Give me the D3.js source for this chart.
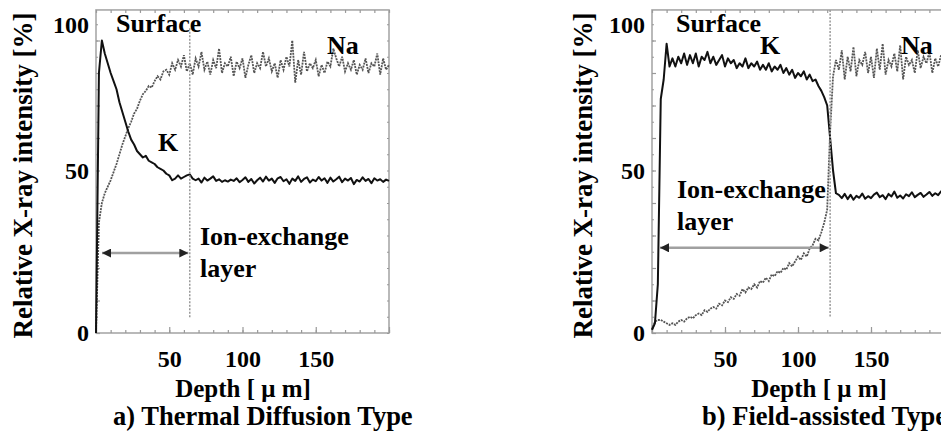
<!DOCTYPE html>
<html>
<head>
<meta charset="utf-8">
<script src="https://cdn.jsdelivr.net/npm/d3@7"></script>
<style>
  body { margin: 0; background: #fff; }
  svg text { font-family: "Liberation Serif", "Times New Roman", serif; font-weight: bold; fill: #000; }
</style>
</head>
<body>
<script>
// Sampling step of the EPMA line scans [um]
var depthStep = 2;

// a) Thermal diffusion type, depth 0..200 um every 2 um
var kThermal = [0, 80, 90, 86, 83, 80, 77.5, 75, 71, 68, 65, 62, 59.5, 58, 56, 55, 54, 54.5, 53, 52.5,
  52, 51, 50.5, 50, 49, 48.5, 47, 47.5, 48.5, 47.5, 48, 48.5, 48.8, 47.5, 47, 47.5,
  46.3, 47.8, 46.9, 47.5, 48.2, 46.8, 47.3, 46.5, 47.0, 46.6, 47.2, 46.8, 47.6, 46.4, 47.1, 47.9,
  46.5, 47.4, 46.0, 47.0, 47.8, 46.6, 48.1, 46.9, 47.5, 46.2, 47.6, 48.0, 46.7, 47.3, 45.9, 47.5,
  46.8, 48.2, 46.5, 47.4, 47.9, 46.3, 47.2, 46.7, 48.0, 46.9, 47.6, 46.2, 47.8, 46.6, 47.3, 48.1,
  46.4, 47.5, 46.9, 47.7, 45.8, 47.1, 46.6, 47.9, 46.8, 47.4, 46.1, 47.6, 46.9, 47.3, 46.5, 47.2, 46.8];

var naThermal = [0, 34, 40, 43, 45, 47, 49.5, 52, 55, 58, 60.5, 63, 65, 67.5, 69, 71.5, 73.5, 74.5, 76, 75.5,
  77.5, 79, 78, 80.5, 81, 79.5, 83, 81, 84, 82, 85.5, 80.5, 83, 79.5, 84.5, 82,
  86.5, 81, 83.5, 79.5, 84, 81.5, 87.5, 80, 83, 82, 85, 79, 83.5, 81.5, 84.5, 78.5,
  82.5, 85.5, 80, 83, 81.5, 86.5, 82, 84.5, 80.5, 83, 78.5, 84, 81, 85, 82, 90,
  77, 84, 79.5, 86.5, 80.5, 83, 81.5, 84, 79, 82.5, 80, 83.5, 82, 87.5, 84.5, 82,
  85, 80.5, 83, 81, 84, 79.5, 82.5, 81, 84.5, 80, 83, 82, 86, 79.5, 84.5, 81, 82.5];

// b) Field-assisted type, depth 0..200 um every 2 um
var kField = [1, 3, 15, 72, 78, 89, 82, 84.5, 82, 85, 83, 86, 82.5, 85.5, 83, 86, 82, 85, 84, 86.5,
  83, 85, 82.5, 84, 85.5, 82, 84.5, 83, 84, 81.5, 83, 82, 84.5, 81.5, 83, 82, 83.5, 81,
  82.5, 81, 83, 80.5, 82, 81, 82.5, 80, 81.5, 79.5, 81, 78.5, 80, 79, 80.5, 78, 79.5, 77.5,
  78, 76, 74.5, 72.5, 70, 60, 50, 43, 42.5, 41.5, 42.8, 41.2,
  42.5, 41, 42.2, 41.6, 42.9, 41.3, 42.1, 41.5, 42.6, 43.2, 41.8, 42.4, 41.2, 42.8, 42, 43.5,
  41.6, 42.3, 41.4, 42.7, 42.1, 43.3, 41.8, 42.5, 43.1, 41.9, 42.6, 43.4, 42.2, 43, 42.4, 43.6, 42.8];

var naField = [1, 3.5, 4, 4, 3.5, 3, 2.5, 3, 2.5, 3.5, 4, 3.5, 4.5, 5, 4.5, 5.5, 6, 5.5, 7, 6.5,
  7.5, 8, 7.5, 9, 8.5, 10, 9.5, 11, 10.5, 12, 11.5, 13.5, 12.5, 14, 13.5, 15, 14, 16,
  15.5, 17, 16, 18, 17.5, 19, 18.5, 20, 19.5, 21.5, 20.5, 22, 23.5, 22.5, 24.5, 23.5, 26, 27,
  29, 28.5, 31, 34, 38, 62, 79, 84, 81, 87, 78, 85, 80.5, 88, 79, 84, 82.5, 86.5,
  80, 85, 78.5, 87.5, 81, 89, 79.5, 84, 82, 86, 80.5, 88.5, 78, 85, 82.5, 84, 80, 87,
  81.5, 85, 83, 86.5, 80, 84.5, 82, 85.5, 83];

// Axis ticks and labels
var xTickLabels = [50, 100, 150];
var yTickLabels = [0, 50, 100];
var xMinorTicks = d3.range(0, 201, 10);
var yMinorTicks = d3.range(0, 100, 5);

// Ion-exchange layer boundary [um]
var layerThermal = 64;
var layerField = 122;

var serif = "'Liberation Serif', 'Times New Roman', Times, serif";

var width = 941, height = 436;
var svg = d3.select("body").append("svg")
    .attr("width", width)
    .attr("height", height)
    .attr("font-family", serif);

var defs = svg.append("defs");
["arrowEnd", "arrowStart"].forEach(function (id, i) {
    defs.append("marker")
        .attr("id", id)
        .attr("markerUnits", "userSpaceOnUse")
        .attr("viewBox", "0 0 10 10")
        .attr("refX", 10).attr("refY", 5)
        .attr("markerWidth", 10).attr("markerHeight", 9)
        .attr("orient", i === 0 ? "auto" : "auto-start-reverse")
        .append("path")
        .attr("d", "M0,0 L10,5 L0,10 Z")
        .attr("fill", "#222");
});

// Common y scale
var y = d3.scaleLinear().domain([0, 100]).range([333, 8]);
var yTop = 99.4;

var panels = [
    { k: kThermal, na: naThermal, layer: layerThermal, range: [96, 389],
      ylabX: 32, depthX: 243, title: "a) Thermal Diffusion Type", titleX: 113,
      labels: [["Surface", 13.7, 92.6], ["Na", 157.7, 85.8], ["K", 42.3, 56],
               ["Ion-exchange", 71, 27.1], ["layer", 71, 17.2]],
      arrow: [4.1, 24.6], dashTop: 93.8 },
    { k: kField, na: naField, layer: layerField, range: [652, 944],
      ylabX: 592, depthX: 819, title: "b) Field-assisted Type", titleX: 702,
      labels: [["Surface", 16.4, 92.6], ["K", 74, 85.8], ["Na", 170.5, 85.8],
               ["Ion-exchange", 17.1, 41.5], ["layer", 17.1, 31.7]],
      arrow: [5.5, 26.2], dashTop: 99.4 }
];

panels.forEach(function (p) {
    var x = d3.scaleLinear().domain([0, 200]).range(p.range);
    var g = svg.append("g");
    var x0 = x(0), x1 = x(200);

    // Frame
    g.append("rect")
        .attr("x", x0).attr("y", y(yTop))
        .attr("width", x1 - x0).attr("height", y(0) - y(yTop))
        .attr("fill", "none")
        .attr("stroke", "#a8a8a8")
        .attr("stroke-width", 1.6);

    // Inward ticks on all four sides
    function tickAxis(axis, tr, values, size) {
        var a = g.append("g").attr("transform", tr)
            .call(axis.tickValues(values).tickSize(size).tickFormat(""));
        a.select(".domain").remove();
        a.selectAll("line").attr("stroke", "#999").attr("stroke-width", 1.2);
    }
    var xMajor = xMinorTicks.filter(function (d) { return d % 50 === 0; });
    var yMajor = yMinorTicks.filter(function (d) { return d % 10 === 0; });
    tickAxis(d3.axisTop(x), "translate(0," + y(0) + ")", xMinorTicks, 3);
    tickAxis(d3.axisTop(x), "translate(0," + y(0) + ")", xMajor, 6);
    tickAxis(d3.axisBottom(x), "translate(0," + y(yTop) + ")", xMinorTicks, 3);
    tickAxis(d3.axisRight(y), "translate(" + x0 + ",0)", yMinorTicks, 2);
    tickAxis(d3.axisRight(y), "translate(" + x0 + ",0)", yMajor, 4);
    tickAxis(d3.axisLeft(y), "translate(" + x1 + ",0)", yMinorTicks, 2);

    // Tick labels
    var xl = g.append("g").attr("transform", "translate(0," + y(0) + ")")
        .call(d3.axisBottom(x).tickValues(xTickLabels).tickSize(0).tickPadding(17))
        .attr("font-family", serif);
    xl.select(".domain").remove();
    xl.selectAll("text").style("font-size", "24px");

    var yl = g.append("g").attr("transform", "translate(" + x0 + ",0)")
        .call(d3.axisLeft(y).tickValues(yTickLabels).tickSize(0).tickPadding(7))
        .attr("font-family", serif);
    yl.select(".domain").remove();
    yl.selectAll("text").style("font-size", "24px");
    yl.selectAll("text").filter(function (d) { return d === 100; }).attr("dy", "1.02em");

    // Profiles
    var line = d3.line()
        .x(function (d, i) { return x(i * depthStep); })
        .y(function (d) { return y(d); });

    g.append("path").datum(p.na)
        .attr("d", line)
        .attr("fill", "none")
        .attr("stroke", "#555")
        .attr("stroke-width", 1.8)
        .attr("stroke-dasharray", "2,1");

    g.append("path").datum(p.k)
        .attr("d", line)
        .attr("fill", "none")
        .attr("stroke", "#111")
        .attr("stroke-width", 2)
        .attr("stroke-linejoin", "round");

    // Layer boundary
    g.append("line")
        .attr("x1", x(p.layer)).attr("x2", x(p.layer))
        .attr("y1", y(p.dashTop)).attr("y2", y(4.6))
        .attr("stroke", "#999")
        .attr("stroke-width", 1.5)
        .attr("stroke-dasharray", "2,1.5");

    // Ion-exchange layer arrow
    g.append("line")
        .attr("x1", x(p.arrow[0])).attr("x2", x(p.layer - 1))
        .attr("y1", y(p.arrow[1])).attr("y2", y(p.arrow[1]))
        .attr("stroke", "#a0a0a0")
        .attr("stroke-width", 2.5)
        .attr("marker-start", "url(#arrowStart)")
        .attr("marker-end", "url(#arrowEnd)");

    // Annotations
    p.labels.forEach(function (l) {
        g.append("text")
            .attr("x", x(l[1])).attr("y", y(l[2]))
            .style("font-size", "26px")
            .text(l[0]);
    });

    // Axis titles
    g.append("text")
        .attr("transform", "translate(" + p.ylabX + "," + ((y(0) + 12) / 2 + 3) + ") rotate(-90)")
        .attr("text-anchor", "middle")
        .style("font-size", "27px")
        .text("Relative X-ray intensity [%]");

    g.append("text")
        .attr("x", p.depthX).attr("y", 397)
        .attr("text-anchor", "middle")
        .style("font-size", "25px")
        .text("Depth [ \u03bc m]");

    g.append("text")
        .attr("x", p.titleX).attr("y", 425)
        .style("font-size", "26.5px")
        .text(p.title);
});
</script>
</body>
</html>
